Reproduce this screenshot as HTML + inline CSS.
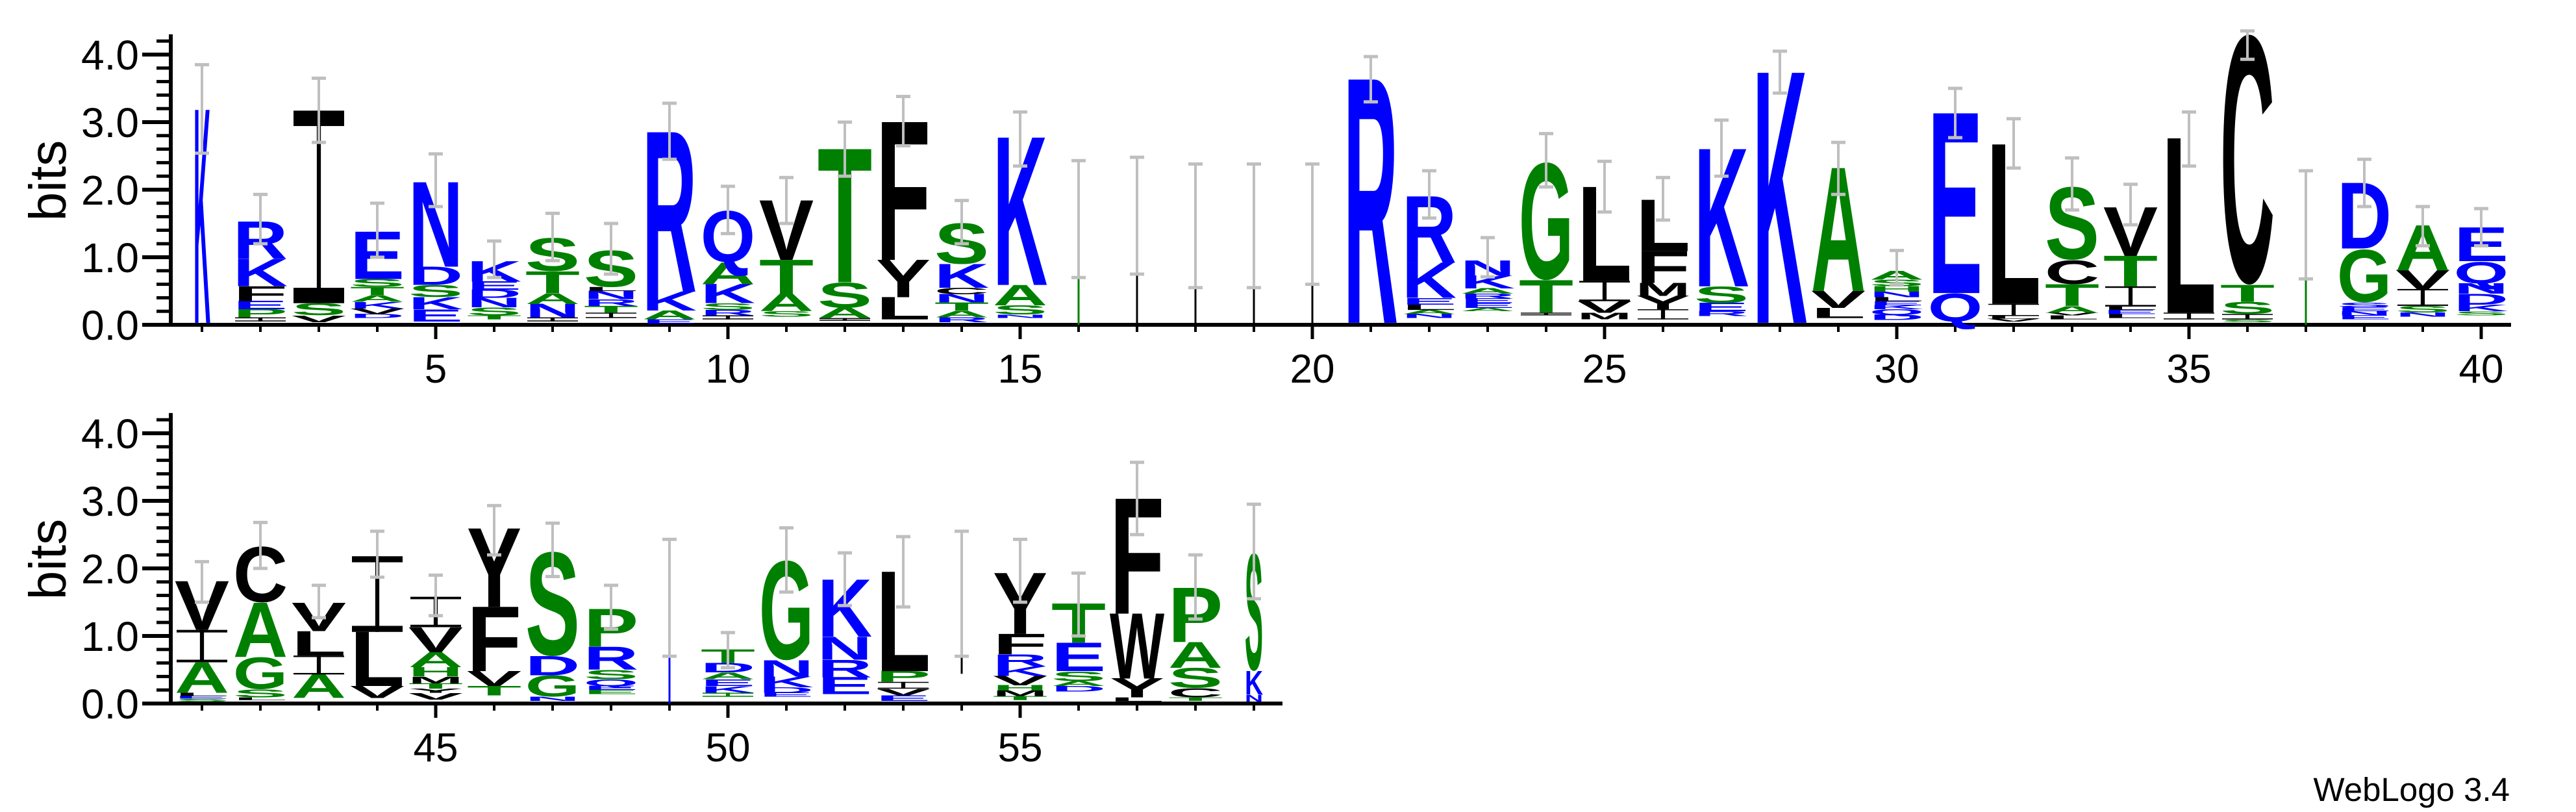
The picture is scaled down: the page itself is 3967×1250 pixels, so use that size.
<!DOCTYPE html>
<html><head><meta charset="utf-8">
<style>html,body{margin:0;padding:0;background:#fff;}svg{display:block;}</style>
</head><body>
<svg id="s" xmlns="http://www.w3.org/2000/svg" width="3967" height="1250" viewBox="0 0 3967 1250">
<rect width="3967" height="1250" fill="#fff"/>
<text x="3865" y="1233" font-family="Liberation Sans, sans-serif" font-size="51" text-anchor="end" fill="#000">WebLogo 3.4</text>
</svg>
<script>
var D=`1|24|.03|3.85|2.54|K b 3.15
2|78|.05|1.93|1.2|I k .06,P g .12,E b .12,F k .22,K b .4,R b .55
3|78|.04|3.65|2.7|V k .1,S g .18,I k 2.85
4|78|.1|1.8|1.0|D b .06,V k .08,K b .1,A g .1,T g .12,S g .12,E b .7
5|78|.05|2.53|1.75|E b .18,K b .18,S g .18,D b .27,N b 1.25
6|78|.08|1.24|.7|T g .06,S g .12,N b .14,D b .12,E b .12,K b .3
7|78|.05|1.65|.95|I k .06,N b .2,A g .16,T g .32,S g .5
8|78|.1|1.5|.75|I k .08,T g .1,R b .1,N b .12,L k .06,S g .55
9|78|.02|3.28|2.45|E b .06,A g .13,K b .28,R b 2.36
10|78|.08|2.05|1.35|I k .06,R b .08,S g .1,K b .28,A g .32,Q b .78
11|78|.12|2.18|1.5|S g .08,A g .26,T g .5,V k .88
12|78|.06|3.0|2.2|I k .04,A g .15,S g .38,T g 1.97
13|78|.08|3.38|2.65|L k .33,Y k .55,F k 2.04
14|78|.04|1.84|1.2|R b .07,A g .1,T g .12,N b .12,C k .1,K b .35,S g .62
15|78|.1|3.15|2.35|N b .05,S g .14,A g .3,K b 2.18
16|3|0|2.43|.7|X g 1.55
17|3|0|2.48|.75|X k 1.6
18|3|0|2.38|.55|X k 1.5
19|3|0|2.38|.55|X k 1.5
20|3|0|2.38|.6|X k 1.5
21|78|.03|3.97|3.3|R b 3.6
22|78|.1|2.28|1.58|N b .06,A g .06,L k .08,E b .1,K b .52,R b .98
23|78|.2|1.29|.71|A g .05,E b .07,E b .07,R b .07,A g .08,K b .19,N b .22
24|78|.14|2.83|2.04|I k .04,T g .48,G g 1.77
25|78|.08|2.42|1.67|M k .1,V k .17,I k .3,L k 1.39
26|78|.08|2.18|1.55|I k .15,Y k .2,M k .19,F k .47,L k .76
27|78|.13|3.03|2.2|R b .07,E b .12,S g .25,K b 2.03
28|78|.03|4.05|3.43|K b 3.7
29|78|.1|2.7|1.93|L k .15,V k .25,A g 1.82
30|78|.07|1.1|.6|D b .08,Q b .08,K b .06,E b .06,L k .06,N b .08,H g .08,S g .1,A g .13
31|78|.04|3.5|2.77|Q b .43,E b 2.66
32|78|.05|3.05|2.32|V k .04,L k .04,I k .18,L k 2.36
33|78|.08|2.47|1.7|L k .06,V k .04,A g .1,T g .32,C k .36,S g 1.1
34|78|.1|2.08|1.48|L k .06,E b .06,L k .05,I k .3,T g .45,V k .72
35|78|.08|3.15|2.35|I k .1,L k 2.58
36|78|.04|4.35|3.93|S g .04,I k .08,S g .18,T g .25,C k 3.76
37|3|0|2.28|.68|X g 1.48
38|78|.08|2.45|1.75|E b .06,N b .06,E b .06,S b .07,G g .8,D b .97
39|78|.12|1.75|1.17|N b .06,S g .1,I k .25,V k .28,A g .66
40|78|.14|1.72|1.17|S g .06,K b .1,D b .16,N b .15,Q b .33,E b .5
41|78|.03|2.1|1.5|S g .04,E b .04,L k .05,A g .45,I k .48,V k .72
42|78|.05|2.68|2.0|L k .04,S g .12,G g .48,A g .8,C k .84
43|78|.08|1.75|1.27|A g .35,I k .28,L k .36,V k .42
44|78|.08|2.55|1.87|V k .18,L k .8,I k 1.12
45|78|.06|1.9|1.3|V k .1,Y k .06,T g .08,M k .1,H g .14,A g .22,V k .37,I k .45
46|78|.12|2.93|2.2|T g .14,V k .22,F k .95,Y k 1.16
47|78|.04|2.67|1.88|N b .06,G g .32,D b .28,S g 1.57
48|78|.14|1.75|1.1|E g .06,E b .06,Q b .1,S g .14,R b .34,P g .56
49|3|0|2.43|.7|X b 1.55
50|78|.1|1.05|.53|I g .06,K b .1,E b .1,A g .1,D b .14,T g .2
51|78|.1|2.6|1.65|E b .06,D b .08,K b .16,N b .24,G g 1.5
52|78|.14|2.23|1.45|E b .25,R b .26,N b .34,K b .84
53|78|.04|2.47|1.43|E b .08,V k .1,I k .1,P g .16,L k 1.47
54|3|.44|2.55|.7|X k 1.16
55|78|.05|2.43|1.5|T g .06,M k .08,H g .08,V k .14,K b .14,R b .18,F k .3,Y k .9
56|78|.18|1.93|1.0|D b .08,A g .07,S g .15,E b .42,T g .58
57|78|.03|3.57|2.5|L k .06,Y k .28,W k .96,F k 1.7
58|78|.04|2.2|1.25|T g .05,C k .14,S g .3,A g .38,P g .8
59|26|.03|2.95|1.55|N b .1,K b .35,S g 1.77`;
var NS="http://www.w3.org/2000/svg",S=document.getElementById('s'),B=104;
var COL={b:"#0000ff",g:"#008000",k:"#000000"};
function el(t,a,txt){var e=document.createElementNS(NS,t);for(var k in a)e.setAttribute(k,a[k]);if(txt!=null)e.textContent=txt;S.appendChild(e);return e;}
function rect(x,y,w,h,f){el('rect',{x:x,y:y,width:w,height:h,fill:f});}
// axes
function axes(base,x0,x1,p0,p1,labels){
  rect(260,base-4.3*B,6,4.3*B+3,"#000");
  rect(219,base-3,x1-219,6,"#000");
  for(var i=1;i<=21;i++){var v=i*0.2,y=base-v*B;
    if(i%5==0){rect(219,y-3,44,6,"#000");}
    else rect(241,y-2.5,22,5,"#000");}
  for(var i=0;i<=4;i++){var y=base-i*B;if(i==0)rect(219,y-3,44,6,"#000");
    el('text',{x:214,y:y+23,'font-family':'Liberation Sans, sans-serif','font-size':64,'text-anchor':'end',fill:'#000'},i+".0");}
  for(var p=p0;p<=p1;p++){var cx=311+90*(p-p0);
    if(p%5==0){rect(cx-2.5,base,5,22,"#000");
      el('text',{x:cx,y:base+89,'font-family':'Liberation Sans, sans-serif','font-size':62,'text-anchor':'middle',fill:'#000'},""+p);}
    else rect(cx-2,base,4,11,"#000");}
  el('text',{transform:'translate(101,'+(base-222)+') rotate(-90)','font-family':'Liberation Sans, sans-serif','font-size':80,'text-anchor':'middle',fill:'#000'},"bits");
}
axes(500,219,3867,1,40);
axes(1083,219,1975,41,59);
D.split("\n").forEach(function(line){
  var f=line.split("|"),p=+f[0],w=+f[1],s=+f[2],et=+f[3],eb=+f[4];
  var base=p<=40?500:1083,cx=311+90*(p-(p<=40?1:41)),y=base-s*B;
  f[5].split(",").forEach(function(it){
    var q=it.split(" "),L=q[0],c=COL[q[1]],h=(+q[2])*B,top=y-h;
    if(L=="X"){rect(cx-w/2,top,w,h,c);}
    else if(L=="I"){var bh=Math.max(1.5,h*0.08),sw=Math.max(3,w*0.08);
      rect(cx-w/2,top,w,bh,c);rect(cx-w/2,y-bh,w,bh,c);rect(cx-sw/2,top,sw,h,c);}
    else{var ch=68.8;if("CGOQS".indexOf(L)>=0)ch=72;
      var tw=w*1.08;
      el('text',{x:0,y:0,'font-family':'Liberation Sans, sans-serif','font-weight':'bold','font-size':100,fill:c,
        textLength:tw,lengthAdjust:'spacingAndGlyphs',
        transform:'translate('+(cx-tw/2)+','+(L=="Q"||"CGOS".indexOf(L)>=0?y-h*0.015:y)+') scale(1,'+(h/ch)+')'},L);}
    y=top;
  });
  var ytop=base-et*B,ybot=base-eb*B,g="#bfbfbf";
  rect(cx-2,ytop,4,ybot-ytop,g);rect(cx-11,ytop-2.5,22,5,g);rect(cx-11,ybot-2.5,22,5,g);
});
</script>
</body></html>
